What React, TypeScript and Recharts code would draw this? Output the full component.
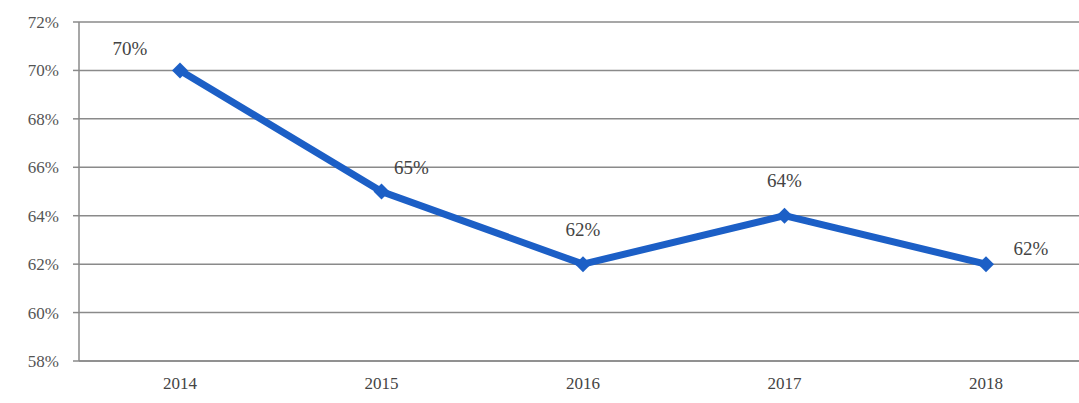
import { LineChart, Line, XAxis, YAxis, CartesianGrid, LabelList } from "recharts";

const YEARS = ["2014", "2015", "2016", "2017", "2018"];
const SHARE = [70, 65, 62, 64, 62];
const Y_TICKS = [58, 60, 62, 64, 66, 68, 70, 72];

const data = YEARS.map((year, i) => ({ year, share: SHARE[i] }));

const BLUE = "#1c5fc6";
const FONT = "'Liberation Serif', 'Times New Roman', serif";

function Diamond(props: any) {
  const { cx, cy } = props;
  if (cx == null || cy == null) return null;
  const r = 8;
  return (
    <polygon
      points={`${cx},${cy - r} ${cx + r},${cy} ${cx},${cy + r} ${cx - r},${cy}`}
      fill={BLUE}
    />
  );
}

// label offsets roughly like the original chart
const shift = (i: number) => {
  if (i === 0) return { dx: -50, dy: -22 };
  if (i === 1) return { dx: 30, dy: -24 };
  if (i === 4) return { dx: 45, dy: -16 };
  return { dx: 0, dy: -35 };
};

function ValueLabel(props: any) {
  const { x, y, value, index } = props;
  const { dx, dy } = shift(index);
  return (
    <text
      x={x + dx}
      y={y + dy}
      textAnchor="middle"
      dominantBaseline="central"
      fontFamily={FONT}
      fontSize={19}
      fill="#444"
    >
      {value}%
    </text>
  );
}

export default function App() {
  return (
    <div
      style={{
        position: "fixed",
        left: 0,
        top: 0,
        width: 1079,
        height: 403,
        background: "#fff",
        overflow: "hidden",
        fontFamily: FONT,
      }}
    >
      <LineChart
        width={1087}
        height={403}
        data={data}
        margin={{ top: 22, right: 0, bottom: 0, left: 0 }}
        style={{ fontFamily: FONT }}
      >
        <CartesianGrid vertical={false} stroke="#8a8a8a" strokeWidth={1.5} />
        <XAxis
          dataKey="year"
          padding={{ left: 101, right: 101 }}
          stroke="#8a8a8a"
          strokeWidth={1.5}
          tick={{ fill: "#444", fontSize: 17, style: { fontFamily: FONT } }}
          tickLine={false}
          tickMargin={10}
          height={42}
        />
        <YAxis
          domain={[58, 72]}
          ticks={Y_TICKS}
          tickFormatter={(v: number) => `${v}%`}
          stroke="#8a8a8a"
          strokeWidth={1.5}
          tick={{ fill: "#555", fontSize: 17, style: { fontFamily: FONT } }}
          tickSize={6}
          tickMargin={14}
          width={79}
          interval={0}
        />
        <Line
          type="linear"
          dataKey="share"
          stroke={BLUE}
          strokeWidth={7}
          dot={<Diamond />}
          activeDot={false}
          isAnimationActive={false}
        >
          <LabelList dataKey="share" content={<ValueLabel />} />
        </Line>
      </LineChart>
    </div>
  );
}
